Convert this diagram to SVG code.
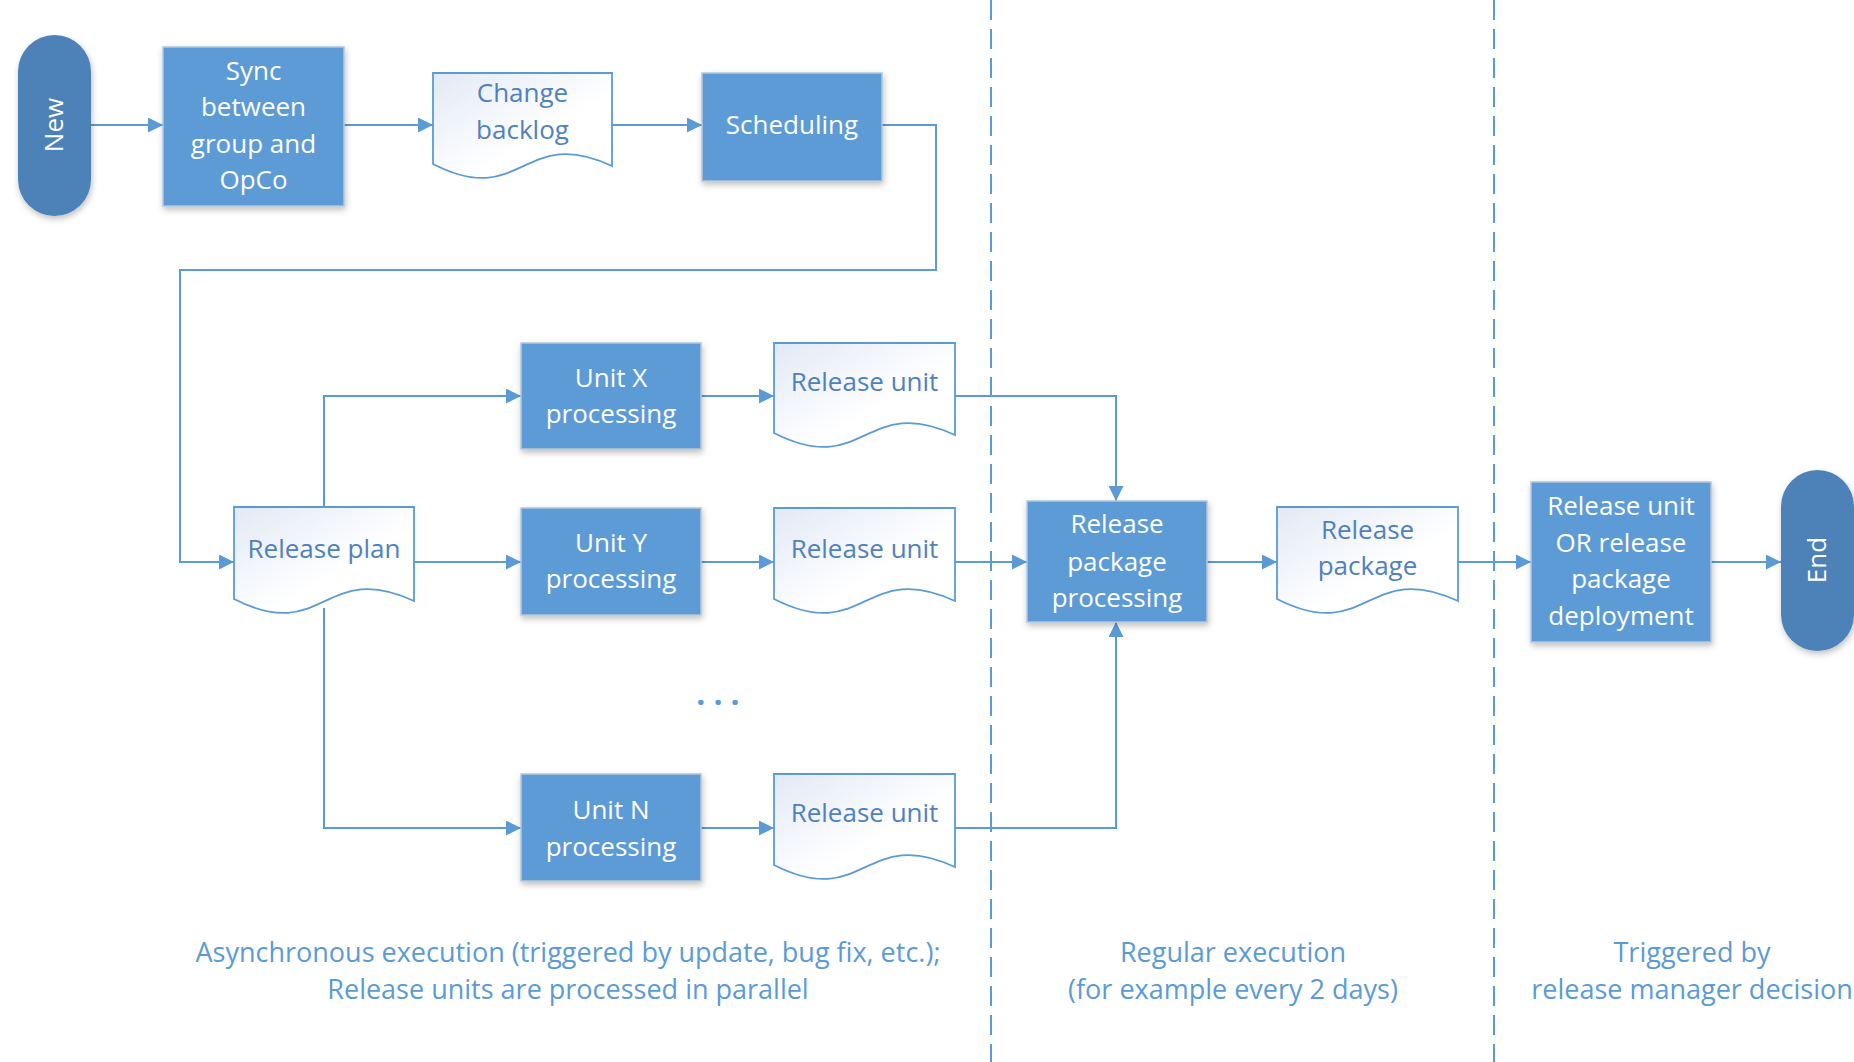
<svg xmlns="http://www.w3.org/2000/svg" width="1854" height="1062" viewBox="0 0 1854 1062">
<style>
text{font-family:"Open Sans","Noto Sans","Liberation Sans",sans-serif;font-size:26px;text-anchor:middle}
.box{fill:#5b9bd5;stroke:#b4c7da;stroke-width:1.5;filter:url(#sh)}
.term{fill:#4d82b9;filter:url(#sh)}
.doc{fill:url(#dg);stroke:#5b9bd5;stroke-width:1.8}
.wt{fill:#ffffff}
.dt{fill:#4f81bd}
.ft{fill:#5b9bd5;font-size:27px}
.ln{fill:none;stroke:#5b9bd5;stroke-width:2}
.dash{fill:none;stroke:#5b9bd5;stroke-width:2;stroke-dasharray:20 9}
</style>
<defs>
<linearGradient id="dg" x1="0" y1="0" x2="1" y2="1">
<stop offset="0" stop-color="#e2e9f5"/>
<stop offset="0.6" stop-color="#ffffff"/>
</linearGradient>
<filter id="sh" x="-10%" y="-10%" width="125%" height="125%">
<feDropShadow dx="1" dy="3" stdDeviation="3" flood-color="#000" flood-opacity="0.25"/>
</filter>
<marker id="ar" viewBox="0 0 15 15" refX="15" refY="7.5" markerWidth="15" markerHeight="15" markerUnits="userSpaceOnUse" orient="auto">
<path d="M0,0 L15,7.5 L0,15 Z" fill="#5b9bd5"/>
</marker>
</defs>
<rect width="1854" height="1062" fill="#ffffff"/>

<g id="lanes">
<line class="dash" x1="991" y1="0" x2="991" y2="1062"/>
<line class="dash" x1="1494" y1="0" x2="1494" y2="1062"/>
</g>

<g id="connectors">
<line class="ln" x1="91" y1="125" x2="163" y2="125" marker-end="url(#ar)"/>
<line class="ln" x1="344" y1="125" x2="433" y2="125" marker-end="url(#ar)"/>
<line class="ln" x1="612" y1="125" x2="702" y2="125" marker-end="url(#ar)"/>
<polyline class="ln" points="882,125 936,125 936,270 180,270 180,562 234,562" marker-end="url(#ar)"/>
<polyline class="ln" points="324,507 324,396 521,396" marker-end="url(#ar)"/>
<line class="ln" x1="414" y1="562" x2="521" y2="562" marker-end="url(#ar)"/>
<polyline class="ln" points="324,608 324,828 521,828" marker-end="url(#ar)"/>
<line class="ln" x1="701" y1="396" x2="774" y2="396" marker-end="url(#ar)"/>
<line class="ln" x1="701" y1="562" x2="774" y2="562" marker-end="url(#ar)"/>
<line class="ln" x1="701" y1="828" x2="774" y2="828" marker-end="url(#ar)"/>
<polyline class="ln" points="955,396 1116,396 1116,501" marker-end="url(#ar)"/>
<line class="ln" x1="955" y1="562" x2="1027" y2="562" marker-end="url(#ar)"/>
<polyline class="ln" points="955,828 1116,828 1116,622" marker-end="url(#ar)"/>
<line class="ln" x1="1207" y1="562" x2="1277" y2="562" marker-end="url(#ar)"/>
<line class="ln" x1="1458" y1="562" x2="1531" y2="562" marker-end="url(#ar)"/>
<line class="ln" x1="1711" y1="562" x2="1781" y2="562" marker-end="url(#ar)"/>
</g>

<g id="new">
<rect class="term" x="18" y="35" width="73" height="181" rx="36.5"/>
<text class="wt" transform="translate(63,125) rotate(-90)">New</text>
</g>

<g id="sync">
<rect class="box" x="163" y="47" width="181" height="159"/>
<text class="wt" x="253.5" y="80">Sync</text>
<text class="wt" x="253.5" y="116">between</text>
<text class="wt" x="253.5" y="153">group and</text>
<text class="wt" x="253.5" y="189">OpCo</text>
</g>

<g id="change-backlog">
<path class="doc" d="M433,73 H612 V166 C522.5,124 522.5,210 433,164 Z"/>
<text class="dt" x="522.5" y="102">Change</text>
<text class="dt" x="522.5" y="139">backlog</text>
</g>

<g id="scheduling">
<rect class="box" x="702" y="73" width="180" height="108"/>
<text class="wt" x="792" y="134">Scheduling</text>
</g>

<g id="release-plan">
<path class="doc" d="M234,507 H414 V601 C324,559 324,645 234,599 Z"/>
<text class="dt" x="324" y="558">Release plan</text>
</g>

<g id="unit-x">
<rect class="box" x="521" y="343" width="180" height="106"/>
<text class="wt" x="611" y="387">Unit X</text>
<text class="wt" x="611" y="423">processing</text>
</g>

<g id="release-unit-x">
<path class="doc" d="M774,343 H955 V435 C864.5,393 864.5,479 774,433 Z"/>
<text class="dt" x="864.5" y="391">Release unit</text>
</g>

<g id="unit-y">
<rect class="box" x="521" y="508" width="180" height="107"/>
<text class="wt" x="611" y="552">Unit Y</text>
<text class="wt" x="611" y="588">processing</text>
</g>

<g id="release-unit-y">
<path class="doc" d="M774,508 H955 V601 C864.5,559 864.5,645 774,599 Z"/>
<text class="dt" x="864.5" y="558">Release unit</text>
</g>

<g id="ellipsis">
<text x="722" y="705" style="fill:#5b9bd5;font-size:32px;font-weight:bold;letter-spacing:8px">...</text>
</g>

<g id="unit-n">
<rect class="box" x="521" y="774" width="180" height="107"/>
<text class="wt" x="611" y="819">Unit N</text>
<text class="wt" x="611" y="856">processing</text>
</g>

<g id="release-unit-n">
<path class="doc" d="M774,774 H955 V867 C864.5,825 864.5,911 774,865 Z"/>
<text class="dt" x="864.5" y="822">Release unit</text>
</g>

<g id="release-package-processing">
<rect class="box" x="1027" y="501" width="180" height="121"/>
<text class="wt" x="1117" y="533">Release</text>
<text class="wt" x="1117" y="571">package</text>
<text class="wt" x="1117" y="607">processing</text>
</g>

<g id="release-package">
<path class="doc" d="M1277,507 H1458 V601 C1367.5,559 1367.5,645 1277,599 Z"/>
<text class="dt" x="1367.5" y="539">Release</text>
<text class="dt" x="1367.5" y="575">package</text>
</g>

<g id="deployment">
<rect class="box" x="1531" y="482" width="180" height="160"/>
<text class="wt" x="1621" y="515">Release unit</text>
<text class="wt" x="1621" y="552">OR release</text>
<text class="wt" x="1621" y="588">package</text>
<text class="wt" x="1621" y="625">deployment</text>
</g>

<g id="end">
<rect class="term" x="1781" y="470" width="73" height="181" rx="36.5"/>
<text class="wt" transform="translate(1826,560) rotate(-90)">End</text>
</g>

<g id="notes">
<text class="ft" x="568" y="962">Asynchronous execution (triggered by update, bug fix, etc.);</text>
<text class="ft" x="568" y="999">Release units are processed in parallel</text>
<text class="ft" x="1233" y="962">Regular execution</text>
<text class="ft" x="1233" y="999">(for example every 2 days)</text>
<text class="ft" x="1692" y="962">Triggered by</text>
<text class="ft" x="1692" y="999">release manager decision</text>
</g>
</svg>
